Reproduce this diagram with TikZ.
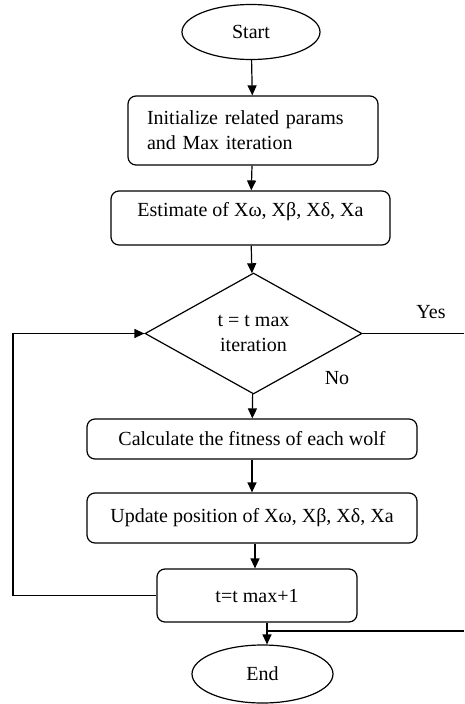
\documentclass[tikz,border=0pt]{standalone}
\usepackage{fontspec}
\setmainfont{Liberation Serif}
\usetikzlibrary{shapes.geometric,arrows.meta}

\tikzset{
  stepbox/.style={draw, rounded corners=8pt, line width=1.2pt, inner sep=0pt},
  term/.style={draw, ellipse, line width=1.2pt, inner sep=0pt},
  arr/.style={line width=1.2pt, -{Triangle[length=10pt,width=9pt]}},
  flow/.style={line width=1.2pt},
}

\begin{document}
\begin{tikzpicture}[x=1pt,y=-1pt,font=\fontsize{20}{25}\selectfont]

% Fix the size of the picture
\useasboundingbox (0,0) rectangle (464,704);

% Define the helper coordinates (loop line and page edge)
\coordinate (loopx) at (13,0);
\coordinate (edge) at (464,0);

% Start and end ovals
\node[term, minimum width=138pt, minimum height=55pt] (start) at (251,32) {Start};
\node[term, minimum width=141pt, minimum height=58pt] (stop) at (262.5,674) {End};

% Process boxes
\node[stepbox, minimum height=69pt, text width=212pt, inner xsep=19pt, align=left] (init) at (253,130.5)
  {Initialize related params\\and Max iteration};
\node[stepbox, minimum width=279pt, minimum height=54pt, text height=14pt, text depth=18pt] (est) at (250.5,218)
  {Estimate of Xω, Xβ, Xδ, Xa};
\node[stepbox, minimum width=330pt, minimum height=40pt] (calc) at (252,439)
  {Calculate the fitness of each wolf};
\node[stepbox, minimum width=330pt, minimum height=50pt] (upd) at (252,518)
  {Update position of Xω, Xβ, Xδ, Xa};
\node[stepbox, minimum width=200pt, minimum height=53pt] (incr) at (257,595.5)
  {t=t max+1};

% Decision diamond
\node[draw, diamond, aspect=1.79, line width=1.2pt, inner sep=0pt, minimum width=217pt, minimum height=121pt, align=center] (dec) at (253.5,333.5)
  {t = t max\\iteration};

% Main flow
\draw[arr] (start) -- (init);
\draw[arr] (init) -- (est);
\draw[arr] (est) -- (dec);
\draw[arr] (dec) -- (calc);
\draw[arr] (calc) -- (upd);
\draw[arr] ([xshift=3pt]upd.south) -- ([xshift=3pt]upd.south |- incr.north);
\draw[arr] ([xshift=10pt]incr.south) -- ([xshift=10pt]incr.south |- stop.north);

% Loop back to the decision
\draw[arr] (incr.west) -- (incr.west -| loopx) |- (dec.west);

% Yes branch leaves to the right and comes back above End
\draw[flow] (dec.east) -- (dec.east -| edge);
\coordinate (merge) at (267,631);
\draw[flow] (merge) -- (merge -| edge);

% Branch labels
\node (yes) at (431,312) {Yes};
\node (no) at (337,378) {No};

\end{tikzpicture}
\end{document}
